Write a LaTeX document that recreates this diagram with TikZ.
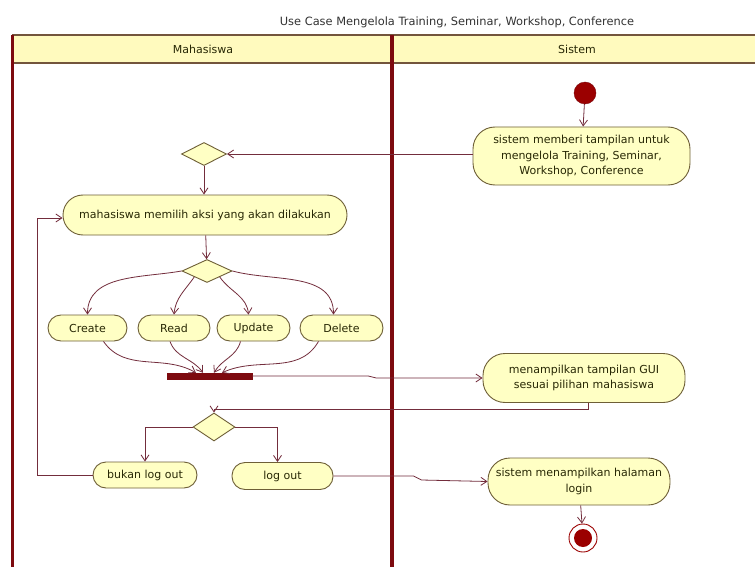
\documentclass[tikz,border=0pt]{standalone}
\usepackage{fontspec}
\setmainfont{DejaVu Sans}
\usetikzlibrary{arrows.meta,shapes.geometric}
\definecolor{nodefill}{RGB}{255,255,196}
\definecolor{nodeline}{RGB}{110,95,55}
\definecolor{conn}{RGB}{115,45,60}
\definecolor{lane}{RGB}{125,10,15}
\definecolor{headfill}{RGB}{255,250,190}
\definecolor{headline}{RGB}{115,85,60}
\definecolor{txt}{RGB}{40,40,5}
\definecolor{dot}{RGB}{155,0,0}
\begin{document}
\begin{tikzpicture}[x=1pt,y=-1pt,
  act/.style={draw=nodeline, fill=nodefill, line width=0.9pt, rounded corners=#1, inner sep=0pt,
    align=center, font=\fontsize{11}{15.5}\selectfont, text=txt},
  act/.default=13pt,
  dec/.style={diamond, draw=nodeline, fill=nodefill, line width=0.9pt, inner sep=0pt},
  arr/.style={draw=conn, line width=0.8pt, -{Straight Barb[length=6pt,width=8pt]}},
  hdr/.style={font=\fontsize{11}{13}\selectfont, text=txt}
]
\useasboundingbox (0,0) rectangle (755,567);
\fill[white] (0,0) rectangle (755,567);
% title
\node[font=\fontsize{11.4}{13}\selectfont, text=black!80] (title) at (457,22) {Use Case Mengelola Training, Seminar, Workshop, Conference};
% swimlanes
\fill[headfill] (12,35) rectangle (755,63);
\draw[headline, line width=1.8pt] (12,35) -- (755,35);
\draw[headline, line width=1.8pt] (12,63) -- (755,63);
\draw[lane, line width=3pt] (12,35) -- (12,567);
\draw[lane, line width=4pt] (392,35) -- (392,567);
\node[hdr] (lane1) at (203,49) {Mahasiswa};
\node[hdr] (lane2) at (577,49) {Sistem};
% nodes
\node[circle, fill=dot, draw=lane, minimum size=22pt, inner sep=0pt] (start) at (585,93) {};
\node[act=22pt, minimum width=217pt, minimum height=58pt] (s1) at (581.5,156)
  {sistem memberi tampilan untuk\\mengelola Training, Seminar,\\Workshop, Conference};
\node[dec, minimum width=45pt, minimum height=23pt] (d1) at (204,154) {};
\node[act=20pt, minimum width=284pt, minimum height=40pt] (act) at (205,215) {mahasiswa memilih aksi yang akan dilakukan};
\node[dec, minimum width=50pt, minimum height=23pt] (d2) at (207,271) {};
\node[act, minimum width=79pt, minimum height=26pt] (create) at (87.5,328) {Create};
\node[act, minimum width=72pt, minimum height=26pt] (read) at (174,328) {Read};
\node[act, minimum width=73pt, minimum height=26pt] (update) at (253.5,328) {Update};
\node[act, minimum width=83pt, minimum height=26pt] (delete) at (341.5,328) {Delete};
\node[fill=lane, draw=lane, minimum width=85pt, minimum height=6pt, inner sep=0pt] (bar) at (209.5,376) {};
\node[act=22pt, minimum width=202pt, minimum height=49pt] (gui) at (584,378)
  {menampilkan tampilan GUI\\sesuai pilihan mahasiswa};
\node[dec, minimum width=42pt, minimum height=28pt] (d3) at (214,427) {};
\node[act, minimum width=104pt, minimum height=26pt] (bukan) at (145,475) {bukan log out};
\node[act, minimum width=101pt, minimum height=27pt] (logout) at (282.5,476) {log out};
\node[act=22pt, minimum width=182pt, minimum height=47pt] (login) at (579,481.5)
  {sistem menampilkan halaman\\login};
\node[circle, draw=dot, line width=0.9pt, fill=white, minimum size=28pt, inner sep=0pt] (end) at (583,538) {};
\fill[dot] (end.center) circle (9pt);
% connectors
\draw[arr] (start) -- (s1);
\draw[arr] (s1.west |- d1.east) -- (d1.east);
\draw[arr] (d1.south) -- (d1.south |- act.north);
\draw[arr] (act) -- (d2);
\draw[arr] (d2.west) to[out=190,in=90] (create.north);
\draw[arr] (d2.south west) to[out=235,in=85] (read.north);
\draw[arr] (d2.south east) to[out=-55,in=95] ([xshift=-5pt]update.north);
\draw[arr] (d2.east) to[out=-15,in=90] ([xshift=-8pt]delete.north);
\draw[arr] ([xshift=16pt]create.south) to[out=-55,in=150] ([xshift=-13.5pt]bar.north);
\draw[arr] ([xshift=-4pt]read.south) to[out=-70,in=125] ([xshift=-6.5pt]bar.north);
\draw[arr] ([xshift=-13pt]update.south) to[out=-105,in=60] ([xshift=4.5pt]bar.north);
\draw[arr] ([xshift=-23pt]delete.south) to[out=-120,in=25] ([xshift=12.5pt]bar.north);
\draw[arr] (bar.east) -- ++(116,0) -- ++(8,2) -- (gui.west);
\draw[arr] ([xshift=4pt]gui.south) -- ++(0,6) -| (d3.north);
\draw[arr] (d3.west) -| (bukan.north);
\draw[arr] (d3.east) -| ([xshift=-5pt]logout.north);
\draw[arr] (bukan.west) -- ++(-55,0) |- ([yshift=-3pt]act.west);
\draw[arr] (logout.east) -- ++(80,0) -- ++(8,4) -- (login.west);
\draw[arr] (login) -- (end);
\end{tikzpicture}
\end{document}
